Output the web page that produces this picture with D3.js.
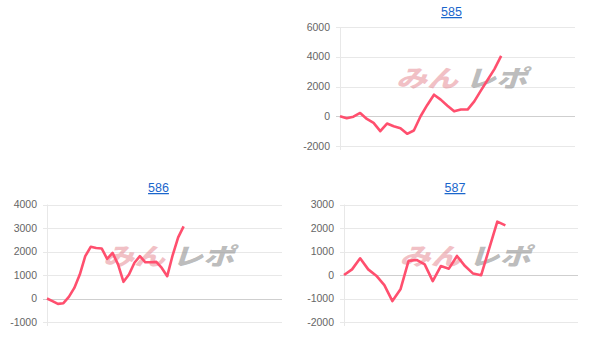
<!DOCTYPE html>
<html>
<head>
<meta charset="utf-8">
<script src="https://cdn.jsdelivr.net/npm/d3@7"></script>
<style>
  body { margin: 0; background: #fff; }
  svg { display: block; font-family: "Liberation Sans", Arial, sans-serif; }
  .tick-label { fill: #666; font-size: 10.5px; }
  .title { fill: #1a66cc; font-size: 12.5px; text-decoration: underline; }
</style>
</head>
<body>
<script>
var titles, values585, values586, values587, slots, yDomains, yTicks, boxes, svg;

titles = ['585', '586', '587'];

values585 = [0, -130, -30, 220, -180, -450, -1000, -490, -670, -800, -1180, -960, 0,
  760, 1450, 1120, 710, 330, 450, 450, 1000, 1740, 2450, 3170, 4060];

values586 = [0, -110, -230, -200, 70, 450, 1020, 1800, 2200, 2150, 2130, 1690, 1940,
  1450, 710, 1020, 1520, 1800, 1540, 1540, 1560, 1300, 950, 1850, 2600, 3070];

values587 = [0, 240, 710, 240, -30, -430, -1110, -610, 600, 640, 450, -260, 380, 270,
  810, 380, 60, -10, 1130, 2270, 2110];

// number of x slots on each chart (last index)
slots = [35, 43, 29];

yDomains = [[-2000, 6000], [-1000, 4000], [-2000, 3000]];
yTicks = [
  [-2000, 0, 2000, 4000, 6000],
  [-1000, 0, 1000, 2000, 3000, 4000],
  [-2000, -1000, 0, 1000, 2000, 3000]
];

// plot boxes: left, right, top, bottom, title y
boxes = [
  { l: 340, r: 575, t: 27, b: 146, ty: 16 },
  { l: 47, r: 282, t: 204.5, b: 322, ty: 192 },
  { l: 344, r: 578, t: 204.5, b: 322, ty: 192 }
];

svg = d3.select('body').append('svg')
  .attr('width', 608)
  .attr('height', 346);

function drawChart(values, i) {
  var box = boxes[i], x, y, g, line, wm;

  x = d3.scaleLinear().domain([0, slots[i]]).range([box.l, box.r]);
  y = d3.scaleLinear().domain(yDomains[i]).range([box.b, box.t]);

  g = svg.append('g').attr('class', 'chart');

  // grid
  g.selectAll('.grid')
      .data(yTicks[i])
    .enter()
      .append('line')
      .attr('x1', box.l - 4)
      .attr('x2', box.r)
      .attr('y1', function(d) { return Math.round(y(d)) + 0.5; })
      .attr('y2', function(d) { return Math.round(y(d)) + 0.5; })
      .attr('stroke', function(d) { return d === 0 ? '#cfcfcf' : '#e8e8e8'; })
      .attr('stroke-width', 1);

  g.append('line')
    .attr('x1', box.l + 0.5)
    .attr('x2', box.l + 0.5)
    .attr('y1', box.t)
    .attr('y2', box.b + 4)
    .attr('stroke', '#e8e8e8');

  g.selectAll('.tick-label')
      .data(yTicks[i])
    .enter()
      .append('text')
      .attr('class', 'tick-label')
      .attr('x', box.l - 10)
      .attr('y', function(d) { return y(d); })
      .attr('dy', '0.35em')
      .attr('text-anchor', 'end')
      .text(function(d) { return d; });

  // title
  g.append('text')
    .attr('class', 'title')
    .attr('x', (box.l + box.r) / 2 - 6)
    .attr('y', box.ty)
    .attr('text-anchor', 'middle')
    .text(titles[i]);

  // watermark
  wm = g.append('g')
    .attr('transform', 'translate(' + ((box.l + box.r) / 2 + 4) + ',' + (box.t + 60) + ') scale(1.15,0.88) skewX(-14)')
    .attr('font-family', '"Noto Sans CJK JP", sans-serif')
    .attr('font-weight', 900)
    .attr('font-size', 27);
  wm.append('text')
    .attr('x', -3)
    .attr('text-anchor', 'end')
    .attr('fill', 'rgba(228,130,140,0.5)')
    .text('みん');
  wm.append('text')
    .attr('x', 3)
    .attr('text-anchor', 'start')
    .attr('fill', 'rgba(150,150,150,0.65)')
    .text('レポ');

  line = d3.line()
    .x(function(d, j) { return x(j); })
    .y(function(d) { return y(d); });

  g.append('path')
    .datum(values)
    .attr('d', line)
    .attr('fill', 'none')
    .attr('stroke', '#ff4f6e')
    .attr('stroke-width', 2.6)
    .attr('stroke-linejoin', 'round');
}

[values585, values586, values587].forEach(drawChart);
</script>
</body>
</html>
